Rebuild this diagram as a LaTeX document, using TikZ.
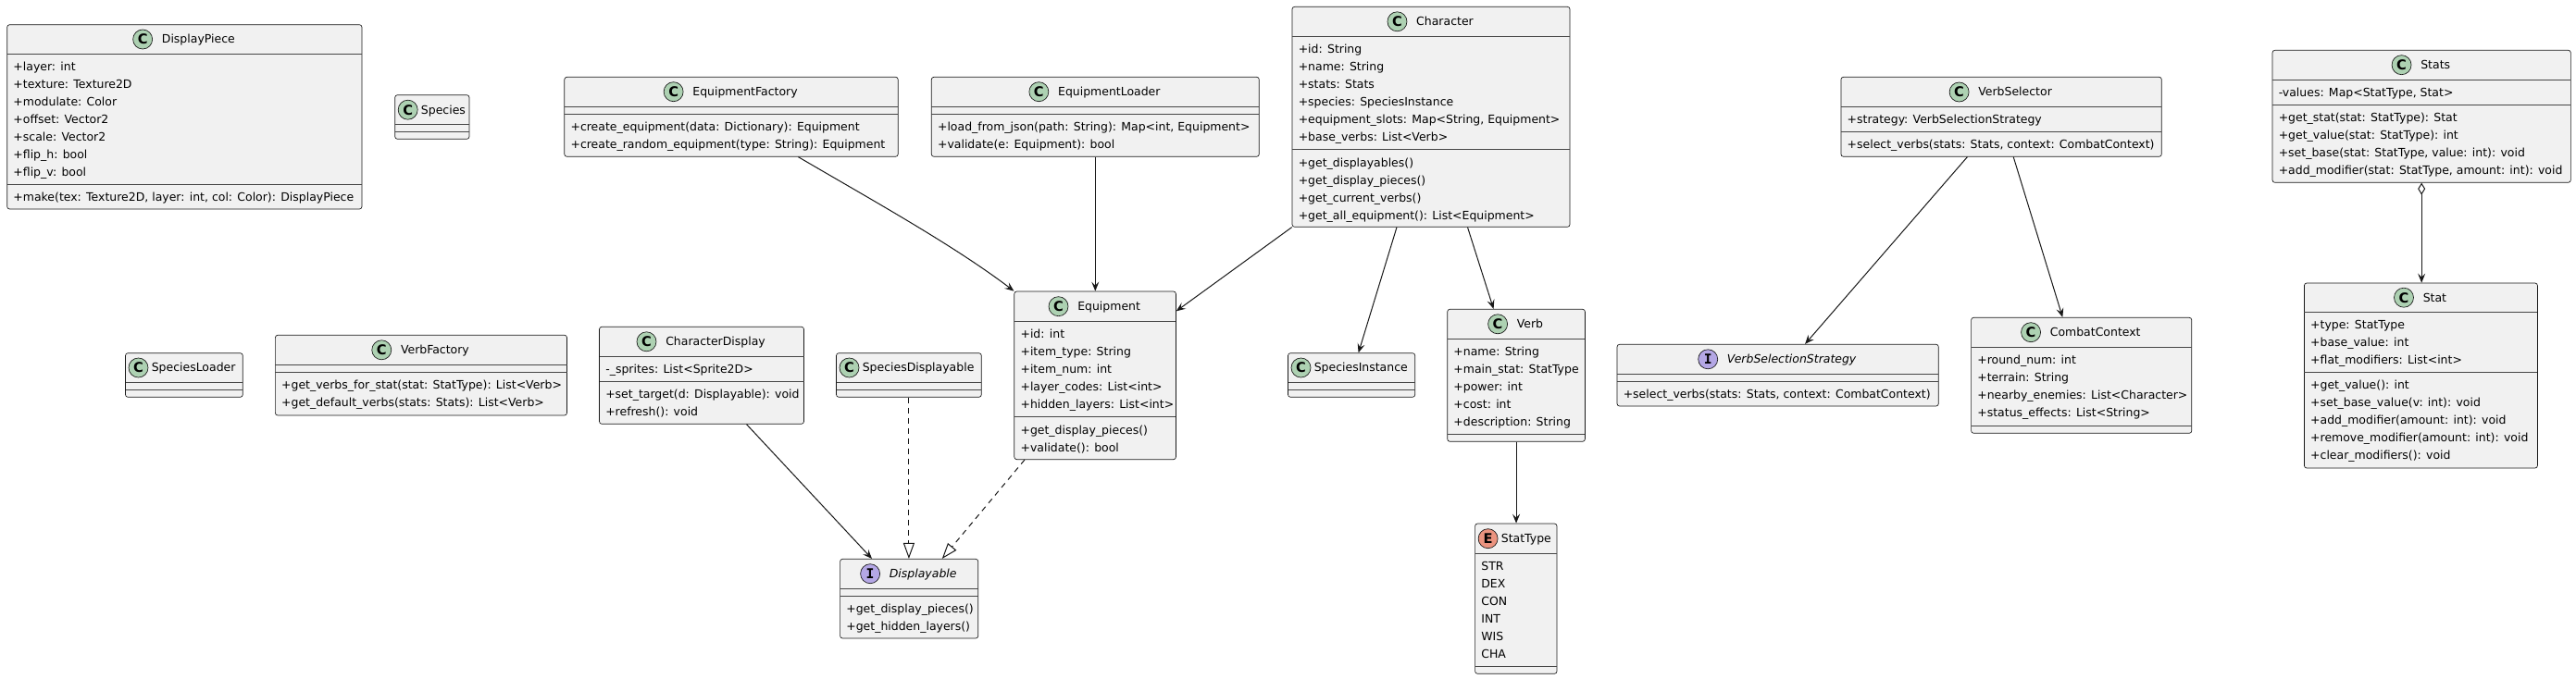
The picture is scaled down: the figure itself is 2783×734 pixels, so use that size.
\documentclass[tikz,border=0pt]{standalone}
\usepackage{fontspec}
\setmainfont{DejaVu Sans}
\newfontfamily\iconmono{DejaVu Sans Mono}
\usetikzlibrary{arrows.meta,fit,calc}
\definecolor{boxfill}{HTML}{F1F1F1}
\definecolor{edgec}{HTML}{181818}
\definecolor{cgreen}{HTML}{ADD1B2}
\definecolor{ipurple}{HTML}{B4A7E5}
\definecolor{ered}{HTML}{EB937F}
\tikzset{
 clsbox/.style={draw=edgec, fill=boxfill, line width=0.5pt, rounded corners=2pt, inner sep=0pt},
 sepline/.style={draw=edgec!80, line width=0.5pt},
 txt/.style={anchor=west, inner sep=0pt, text height=6.7pt, text depth=0pt, font=\fontsize{9.35pt}{11pt}\selectfont},
 cname/.style={inner sep=0pt, text height=6.7pt, text depth=0pt, font=\fontsize{9.35pt}{11pt}\selectfont},
 icon/.style={circle, draw=edgec, line width=0.5pt, minimum size=15.75pt, inner sep=0pt, font=\fontsize{11pt}{11pt}\selectfont\bfseries},
 assoc/.style={draw=edgec, line width=0.75pt, -{Stealth[length=7.5pt,width=6pt,inset=3pt]}},
 realize/.style={draw=edgec, line width=0.75pt, dash pattern=on 4.5pt off 3.75pt, -{Triangle[open,length=12.75pt,width=9pt]}},
}
\newcommand\umlbox[5]{\node[clsbox, fit={(#2,#3) (#4,#5)}] (#1) {};}
\newcommand\umlsep[3]{\draw[sepline] (#1,#3) -- (#2,#3);}
\newcommand\umlrow[4]{\node[txt] (#1) at (#2,#3) {#4};}
\newcommand\umlhead[6]{%
 \node[cname] (#1n) at (#2+15,#3) {#6};
 \node[icon, fill=#4] (#1i) at ($(#1n.west)+(-20.5,0)$) {#5};}
\newcommand\umlheadt[6]{%
 \node[icon, fill=#4] (#1i) at (#2+14,#3) {#5};
 \node[cname, anchor=west] (#1n) at (#2+28,#3) {#6};}
\begin{document}
\begin{tikzpicture}[x=0.75pt, y=-0.75pt]
\useasboundingbox (0,0) rectangle (2783,734);
\fill[white] (0,0) rectangle (2783,734);

% DisplayPiece
\umlbox{dp}{7.7}{26.7}{391}{226}
\umlsep{7.7}{391}{58.3}
\umlsep{7.7}{391}{199.3}
\umlhead{dp}{199.35}{42.5}{cgreen}{C}{DisplayPiece}
\umlrow{dp1}{14.2}{72.3}{+layer: int}
\umlrow{dp2}{14.2}{91.3}{+texture: Texture2D}
\umlrow{dp3}{14.2}{110.3}{+modulate: Color}
\umlrow{dp4}{14.2}{129.3}{+offset: Vector2}
\umlrow{dp5}{14.2}{148.3}{+scale: Vector2}
\umlrow{dp6}{14.2}{167.3}{+flip\_h: bool}
\umlrow{dp7}{14.2}{186.3}{+flip\_v: bool}
\umlrow{dp8}{14.2}{213}{+make(tex: Texture2D, layer: int, col: Color): DisplayPiece}

% Species
\umlbox{sp}{426.7}{102.7}{507}{150.3}
\umlsep{426.7}{507}{134.7}
\umlsep{426.7}{507}{142.7}
\umlheadt{sp}{426.7}{118.7}{cgreen}{C}{Species}

% EquipmentFactory
\umlbox{ef}{609.8}{83.3}{970.2}{169.3}
\umlsep{609.8}{970.2}{115}
\umlsep{609.8}{970.2}{123.3}
\umlhead{ef}{790}{99.2}{cgreen}{C}{EquipmentFactory}
\umlrow{ef1}{616.3}{137.3}{+create\_equipment(data: Dictionary): Equipment}
\umlrow{ef2}{616.3}{156.3}{+create\_random\_equipment(type: String): Equipment}

% EquipmentLoader
\umlbox{el}{1006.3}{83.3}{1360.3}{169.3}
\umlsep{1006.3}{1360.3}{115}
\umlsep{1006.3}{1360.3}{123.3}
\umlhead{el}{1183.3}{99.2}{cgreen}{C}{EquipmentLoader}
\umlrow{el1}{1012.8}{137.3}{+load\_from\_json(path: String): Map<int, Equipment>}
\umlrow{el2}{1012.8}{156.3}{+validate(e: Equipment): bool}

% Character
\umlbox{ch}{1396}{7.3}{1696}{245.3}
\umlsep{1396}{1696}{39.3}
\umlsep{1396}{1696}{161.7}
\umlhead{ch}{1546}{23.3}{cgreen}{C}{Character}
\umlrow{ch1}{1402.5}{53.3}{+id: String}
\umlrow{ch2}{1402.5}{72.3}{+name: String}
\umlrow{ch3}{1402.5}{91.3}{+stats: Stats}
\umlrow{ch4}{1402.5}{110.3}{+species: SpeciesInstance}
\umlrow{ch5}{1402.5}{129.3}{+equipment\_slots: Map<String, Equipment>}
\umlrow{ch6}{1402.5}{148.3}{+base\_verbs: List<Verb>}
\umlrow{ch7}{1402.5}{175.7}{+get\_displayables()}
\umlrow{ch8}{1402.5}{194.7}{+get\_display\_pieces()}
\umlrow{ch9}{1402.5}{213.7}{+get\_current\_verbs()}
\umlrow{ch10}{1402.5}{232.7}{+get\_all\_equipment(): List<Equipment>}

% VerbSelector
\umlbox{vs}{1988.9}{83.3}{2335.3}{169.3}
\umlsep{1988.9}{2335.3}{115.7}
\umlsep{1988.9}{2335.3}{142.3}
\umlhead{vs}{2162.1}{99.5}{cgreen}{C}{VerbSelector}
\umlrow{vs1}{1995.4}{129.5}{+strategy: VerbSelectionStrategy}
\umlrow{vs2}{1995.4}{156}{+select\_verbs(stats: Stats, context: CombatContext)}

% Stats
\umlbox{st}{2455}{54.3}{2777.3}{197.3}
\umlsep{2455}{2777.3}{86}
\umlsep{2455}{2777.3}{113.3}
\umlhead{st}{2616.2}{70.2}{cgreen}{C}{Stats}
\umlrow{st1}{2461.5}{100}{-values: Map<StatType, Stat>}
\umlrow{st2}{2461.5}{127.5}{+get\_stat(stat: StatType): Stat}
\umlrow{st3}{2461.5}{146.5}{+get\_value(stat: StatType): int}
\umlrow{st4}{2461.5}{165.5}{+set\_base(stat: StatType, value: int): void}
\umlrow{st5}{2461.5}{184.5}{+add\_modifier(stat: StatType, amount: int): void}

% SpeciesLoader
\umlbox{sl}{135.5}{381.7}{262.3}{429.3}
\umlsep{135.5}{262.3}{413.3}
\umlsep{135.5}{262.3}{421.3}
\umlheadt{sl}{135.5}{397.5}{cgreen}{C}{SpeciesLoader}

% VerbFactory
\umlbox{vf}{297.4}{362.3}{612.5}{449}
\umlsep{297.4}{612.5}{394.3}
\umlsep{297.4}{612.5}{402.3}
\umlhead{vf}{454.95}{378.3}{cgreen}{C}{VerbFactory}
\umlrow{vf1}{303.9}{416.3}{+get\_verbs\_for\_stat(stat: StatType): List<Verb>}
\umlrow{vf2}{303.9}{435.3}{+get\_default\_verbs(stats: Stats): List<Verb>}

% CharacterDisplay
\umlbox{cd}{647.5}{353.3}{868.5}{458.3}
\umlsep{647.5}{868.5}{385.3}
\umlsep{647.5}{868.5}{412}
\umlhead{cd}{758}{369.3}{cgreen}{C}{CharacterDisplay}
\umlrow{cd1}{654}{398.7}{-\_sprites: List<Sprite2D>}
\umlrow{cd2}{654}{426}{+set\_target(d: Displayable): void}
\umlrow{cd3}{654}{445}{+refresh(): void}

% SpeciesDisplayable
\umlbox{sd}{903.5}{381.7}{1060.3}{429.3}
\umlsep{903.5}{1060.3}{413.3}
\umlsep{903.5}{1060.3}{421.3}
\umlheadt{sd}{903.5}{397.5}{cgreen}{C}{SpeciesDisplayable}

% Equipment
\umlbox{eq}{1095.8}{315}{1270.4}{496.7}
\umlsep{1095.8}{1270.4}{347.3}
\umlsep{1095.8}{1270.4}{450.7}
\umlhead{eq}{1183.1}{331.2}{cgreen}{C}{Equipment}
\umlrow{eq1}{1102.3}{361}{+id: int}
\umlrow{eq2}{1102.3}{380}{+item\_type: String}
\umlrow{eq3}{1102.3}{399}{+item\_num: int}
\umlrow{eq4}{1102.3}{418}{+layer\_codes: List<int>}
\umlrow{eq5}{1102.3}{437}{+hidden\_layers: List<int>}
\umlrow{eq6}{1102.3}{464.7}{+get\_display\_pieces()}
\umlrow{eq7}{1102.3}{483.7}{+validate(): bool}

% Displayable
\umlbox{di}{907.6}{604.3}{1056.8}{690}
\umlsep{907.6}{1056.8}{636}
\umlsep{907.6}{1056.8}{644.3}
\umlhead{di}{982.2}{620.2}{ipurple}{{\iconmono I}}{{\itshape Displayable}}
\umlrow{di1}{914.1}{658.3}{+get\_display\_pieces()}
\umlrow{di2}{914.1}{677.3}{+get\_hidden\_layers()}

% SpeciesInstance
\umlbox{si}{1391.5}{381.7}{1528.7}{429.3}
\umlsep{1391.5}{1528.7}{413.3}
\umlsep{1391.5}{1528.7}{421.3}
\umlheadt{si}{1391.5}{397.5}{cgreen}{C}{SpeciesInstance}

% Verb
\umlbox{vb}{1563.7}{334.3}{1712.4}{477.3}
\umlsep{1563.7}{1712.4}{366.3}
\umlsep{1563.7}{1712.4}{469.3}
\umlhead{vb}{1638}{350.3}{cgreen}{C}{Verb}
\umlrow{vb1}{1570.2}{380.3}{+name: String}
\umlrow{vb2}{1570.2}{399.3}{+main\_stat: StatType}
\umlrow{vb3}{1570.2}{418.3}{+power: int}
\umlrow{vb4}{1570.2}{437.3}{+cost: int}
\umlrow{vb5}{1570.2}{456.3}{+description: String}

% StatType
\umlbox{stt}{1593.6}{566}{1682}{728.3}
\umlsep{1593.6}{1682}{598.3}
\umlsep{1593.6}{1682}{720}
\umlheadt{stt}{1593.6}{582.2}{ered}{E}{StatType}
\umlrow{stt1}{1600.1}{612.3}{STR}
\umlrow{stt2}{1600.1}{631.3}{DEX}
\umlrow{stt3}{1600.1}{650.3}{CON}
\umlrow{stt4}{1600.1}{669.3}{INT}
\umlrow{stt5}{1600.1}{688.3}{WIS}
\umlrow{stt6}{1600.1}{707.3}{CHA}

% VerbSelectionStrategy
\umlbox{vss}{1747}{372.3}{2094.3}{439}
\umlsep{1747}{2094.3}{404.3}
\umlsep{1747}{2094.3}{412.3}
\umlhead{vss}{1920.65}{388.3}{ipurple}{{\iconmono I}}{{\itshape VerbSelectionStrategy}}
\umlrow{vss1}{1753.5}{426}{+select\_verbs(stats: Stats, context: CombatContext)}

% CombatContext
\umlbox{cc}{2129.6}{343.3}{2367.8}{468.3}
\umlsep{2129.6}{2367.8}{375}
\umlsep{2129.6}{2367.8}{460.3}
\umlhead{cc}{2248.7}{359.2}{cgreen}{C}{CombatContext}
\umlrow{cc1}{2136.1}{389}{+round\_num: int}
\umlrow{cc2}{2136.1}{408}{+terrain: String}
\umlrow{cc3}{2136.1}{427}{+nearby\_enemies: List<Character>}
\umlrow{cc4}{2136.1}{446}{+status\_effects: List<String>}

% Stat
\umlbox{sa}{2489.4}{306}{2741.4}{506}
\umlsep{2489.4}{2741.4}{337.3}
\umlsep{2489.4}{2741.4}{402.3}
\umlhead{sa}{2615.4}{321.7}{cgreen}{C}{Stat}
\umlrow{sa1}{2495.9}{351.3}{+type: StatType}
\umlrow{sa2}{2495.9}{370.3}{+base\_value: int}
\umlrow{sa3}{2495.9}{389.3}{+flat\_modifiers: List<int>}
\umlrow{sa4}{2495.9}{416.3}{+get\_value(): int}
\umlrow{sa5}{2495.9}{435.3}{+set\_base\_value(v: int): void}
\umlrow{sa6}{2495.9}{454.3}{+add\_modifier(amount: int): void}
\umlrow{sa7}{2495.9}{473.3}{+remove\_modifier(amount: int): void}
\umlrow{sa8}{2495.9}{492.3}{+clear\_modifiers(): void}

% connectors
\draw[assoc] ($(ef.south)+(72.4,0)$) .. controls (945,218) and (1030,265) .. (eq.north west);
\draw[assoc] (el.south) -- (el.south |- eq.north);
\draw[assoc] (ch.south west) -- ($(eq.north east)+(0,21.7)$);
\draw[assoc] ($(ch.south)+(-37,0)$) -- ($(si.north)+(7.5,0)$);
\draw[assoc] ($(ch.south)+(39.5,0)$) -- ($(vb.north)+(-24.5,0)$);
\draw[assoc] (vb.south) -- (vb.south |- stt.north);
\draw[assoc] ($(vs.south)+(-36.7,0)$) -- ($(vss.north)+(29.4,0)$);
\draw[assoc] ($(vs.south)+(13.1,0)$) -- ($(cc.north)+(-20.4,0)$);
\draw[assoc, {Diamond[open,length=9.75pt,width=6pt]}-{Stealth[length=7.5pt,width=6pt,inset=3pt]}] (st.south) -- (st.south |- sa.north);
\draw[assoc] ($(cd.south)+(48.5,0)$) -- ($(di.north)+(-40.2,0)$);
\draw[realize] (sd.south) -- (sd.south |- di.north);
\draw[realize] ($(eq.south west)+(11.5,0)$) -- ($(di.north)+(35.6,0)$);
\end{tikzpicture}
\end{document}
